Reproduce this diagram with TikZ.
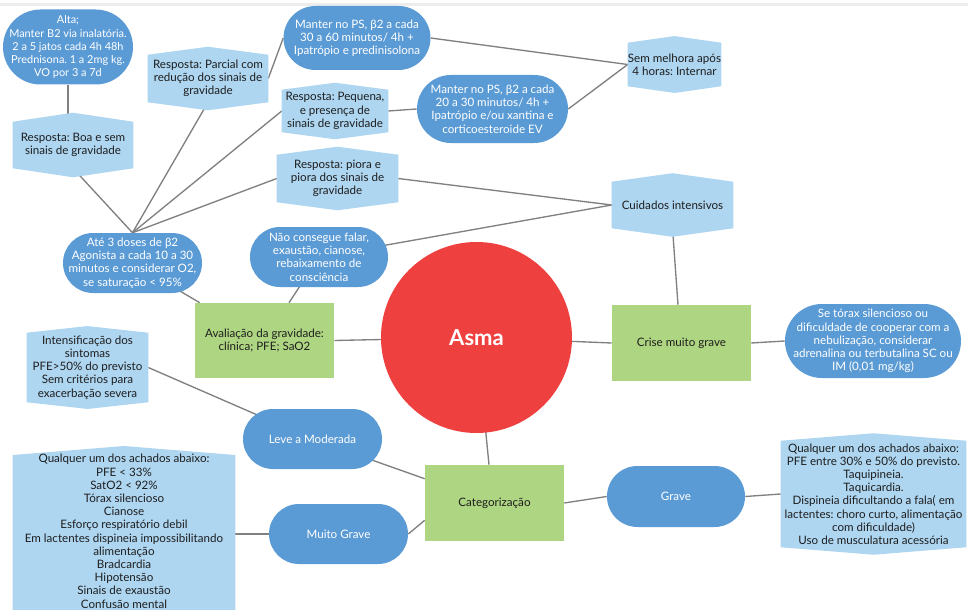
\documentclass[tikz,border=0pt]{standalone}
\usepackage{fontspec}
\setmainfont{Lato}
\usetikzlibrary{calc}
\frenchspacing
\pgfdeclarelayer{edges}
\pgfdeclarelayer{background}
\pgfsetlayers{edges,background,main}
\definecolor{bluenode}{HTML}{5B9BD5}
\definecolor{hexblue}{HTML}{AED6F1}
\definecolor{greennode}{HTML}{AED581}
\definecolor{rednode}{HTML}{EF4040}
\definecolor{edgegray}{HTML}{808080}
\definecolor{txt}{HTML}{1E1E1E}
\tikzset{
  base/.style={align=center, inner sep=0pt, font=\fontsize{8.7}{9.9}\selectfont},
  sz/.style 2 args={minimum width=#1*0.75pt, minimum height=#2*0.75pt},
  stad/.style 2 args={base, rectangle, fill=bluenode, text=white, sz={#1}{#2}, rounded corners=#2*0.375pt},
  hexbox/.style={base, rectangle, text=txt},
  greenbox/.style={base, rectangle, fill=greennode, text=txt},
  conn/.style={draw=edgegray, line width=1pt},
}
\newcommand\hexfill[2]{%
  \begin{pgfonlayer}{background}
  \fill[hexblue] (#1.north west) -- ([yshift=#2]#1.north) -- (#1.north east) -- (#1.south east) -- ([yshift=-#2]#1.south) -- (#1.south west) -- cycle;
  \end{pgfonlayer}}
\begin{document}
\begin{tikzpicture}[x=0.75pt,y=-0.75pt]
\useasboundingbox (0,0) rectangle (968,610);
\clip (0,0) rectangle (968,610);
\begin{pgfonlayer}{edges}
\fill[white] (0,0) rectangle (968,610);
\fill[black!7] (0,3.5) rectangle (968,6.5);
\end{pgfonlayer}

\node[stad={130}{75}, font=\fontsize{8.2}{9.8}\selectfont] (alta) at (68,47) {Alta;\\Manter B2 via inalatória.\\2 a 5 jatos cada 4h 48h\\Prednisona. 1 a 2mg kg.\\VO por 3 a 7d};
\node[hexbox, sz={120}{46}] (boa) at (73,145) {Resposta: Boa e sem\\sinais de gravidade};
\hexfill{boa}{6.75pt}
\node[hexbox, sz={120}{47}] (parcial) at (208,78.5) {Resposta: Parcial com\\redução dos sinais de\\gravidade};
\hexfill{parcial}{6pt}
\node[stad={147}{64}] (manter1) at (357,38) {Manter no PS, β2 a cada\\30 a 60 minutos/ 4h +\\Ipatrópio e predinisolona};
\node[hexbox, sz={106}{42}] (pequena) at (335,111) {Resposta: Pequena,\\e presença de\\sinais de gravidade};
\hexfill{pequena}{5.25pt}
\node[stad={151}{68}] (manter2) at (492.5,109) {Manter no PS, β2 a cada\\20 a 30 minutos/ 4h +\\Ipatrópio e/ou xantina e\\corticoesteroide EV};
\node[hexbox, sz={93}{43}] (sem) at (674.5,64.5) {Sem melhora após\\4 horas: Internar};
\hexfill{sem}{5pt}
\node[hexbox, sz={121}{47}] (piora) at (337.5,178.5) {Resposta: piora e\\piora dos sinais de\\gravidade};
\hexfill{piora}{6pt}
\node[hexbox, sz={121}{46}] (cuidados) at (672.5,205) {Cuidados intensivos};
\hexfill{cuidados}{6.4pt}
\node[stad={139}{60}] (ate) at (132.5,263) {Até 3 doses de β2\\Agonista a cada 10 a 30\\minutos e considerar O2,\\se saturação < 95\%};
\node[stad={138}{60}] (nao) at (319,257) {Não consegue falar,\\exaustão, cianose,\\rebaixamento de\\consciência};
\node[greenbox, sz={139}{75}] (aval) at (264.5,340.5) {Avaliação da gravidade:\\clínica; PFE; SaO2};
\node[circle, fill=rednode, minimum size=191*0.75pt, inner sep=0pt, text=white, font=\fontsize{16.5}{19}\selectfont\bfseries] (asma) at (476.5,337.5) {Asma};
\node[greenbox, sz={139}{76}] (crise) at (681.5,343) {Crise muito grave};
\node[stad={176}{74}] (setorax) at (873,341) {Se tórax silencioso ou\\dificuldade de cooperar com a\\nebulização, considerar\\adrenalina ou terbutalina SC ou\\IM (0,01 mg/kg)};
\node[hexbox, sz={121}{69}] (intens) at (87.5,367.5) {Intensificação dos\\sintomas\\PFE>50\% do previsto\\Sem critérios para\\exacerbação severa};
\hexfill{intens}{5pt}
\node[stad={139}{60}] (leve) at (312.5,439) {Leve a Moderada};
\node[greenbox, sz={139}{76}] (categ) at (494.5,503) {Categorização};
\node[stad={138}{61}] (grave) at (676,496.5) {Grave};
\node[hexbox, sz={185}{106}] (gravedet) at (873.5,494) {Qualquer um dos achados abaixo:\\PFE entre 30\% e 50\% do previsto.\\Taquipineia.\\Taquicardia.\\Dispineia dificultando a fala( em\\lactentes: choro curto, alimentação\\com dificuldade)\\Uso de musculatura acessória};
\hexfill{gravedet}{5.6pt}
\node[stad={139}{60}] (muito) at (338.5,534) {Muito Grave};
\node[hexbox, minimum width=222*0.75pt, anchor=north] (muitodet) at (124,454) {Qualquer um dos achados abaixo:\\PFE < 33\%\\SatO2 < 92\%\\Tórax silencioso\\Cianose\\Esforço respiratório debil\\Em lactentes dispineia impossibilitando\\alimentação\\Bradcardia\\Hipotensão\\Sinais de exaustão\\Confusão mental};
\begin{pgfonlayer}{background}
\fill[hexblue] ($(muitodet.north west)+(0,1)$) -- ([yshift=6pt]muitodet.north) -- ($(muitodet.north east)+(0,1)$) -- (muitodet.east |- 0,650) -- (muitodet.west |- 0,650) -- cycle;
\end{pgfonlayer}

\begin{pgfonlayer}{edges}
\draw[conn] (alta.south) -- (alta.south |- boa.north);
\draw[conn] (ate.north) -- (boa.south);
\draw[conn] (ate.north) -- (parcial.south);
\draw[conn] (ate.north) -- (pequena.west);
\draw[conn] (ate.north) -- (piora.west);
\draw[conn] (parcial.east) -- (manter1.west);
\draw[conn] (pequena.east) -- (manter2.west);
\draw[conn] (manter1.east) -- (sem.west);
\draw[conn] (manter2.east) -- (sem.west);
\draw[conn] (piora.east) -- (cuidados.west);
\draw[conn] (nao.center) -- (cuidados.west);
\draw[conn] (ate.center) -- ($(aval.north west)+(5,0)$);
\draw[conn] (nao.center) -- ($(aval.north)+(24.5,0)$);
\draw[conn] (aval.east) -- (asma.center);
\draw[conn] (asma.center) -- (crise.west);
\draw[conn] (cuidados.south) -- ($(crise.north)+(-3.5,0)$);
\draw[conn] (crise.east) -- (setorax.west);
\draw[conn] (intens.east) -- (leve.center);
\draw[conn] (leve.center) -- ($(categ.north west)+(0,14)$);
\draw[conn] (muito.east) -- ($(categ.south west)+(0,-21)$);
\draw[conn] (asma.center) -- ($(categ.north)+(-5.5,0)$);
\draw[conn] (categ.east) -- (grave.west);
\draw[conn] (grave.east) -- (gravedet.west);
\draw[conn] (muito.west) -- (muito.west -| muitodet.east);
\end{pgfonlayer}
\end{tikzpicture}
\end{document}
